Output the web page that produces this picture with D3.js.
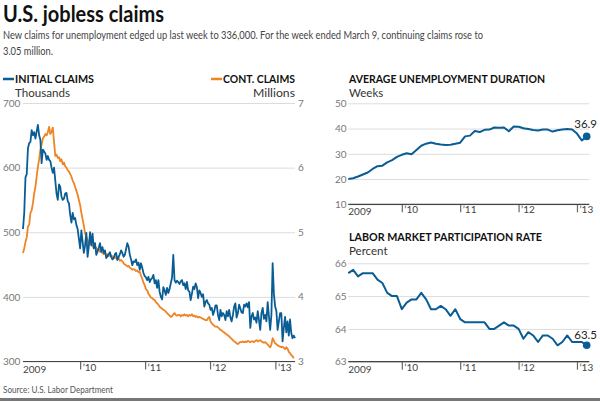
<!DOCTYPE html>
<html><head><meta charset="utf-8">
<script src="https://cdn.jsdelivr.net/npm/d3@7"></script>
<style>
body{margin:0;background:#fff}
svg{display:block}
text{font-family:Lato,"Open Sans",sans-serif}
</style>
</head><body>
<svg id="c" width="600" height="402"></svg>
<script>
// ---------------- DATA ----------------
// Weekly initial jobless claims (thousands), week ended Jan 3 2009 .. Mar 16 2013
const initialClaims = [
505,530,585,590,630,638,640,658,650,655,645,656,666,650,643,607,628,625,622,612,618,612,610,600,592,600,580,560,550,574,570,555,550,552,560,561,548,545,527,515,530,520,522,511,505,490,475,503,485,468,480,499,
462,478,500,480,498,475,483,465,470,476,483,470,477,468,472,460,463,466,469,462,458,460,466,468,457,462,466,472,468,462,465,474,483,478,465,458,449,455,454,458,449,453,442,452,445,437,432,430,426,431,423,427,
429,434,421,426,414,426,408,400,396,415,410,403,414,406,412,421,430,465,426,422,425,423,420,424,426,418,421,412,423,410,408,395,405,416,412,421,415,398,410,406,400,404,385,392,395,390,388,380,383,372,378,387,
387,372,364,380,370,375,372,364,378,370,380,368,362,372,385,390,368,375,388,382,376,375,388,385,390,384,392,352,370,375,365,368,360,378,364,349,375,383,366,372,362,392,370,349,372,452,405,385,378,349,362,375,
375,331,352,369,345,362,340,365,344,336,340,336
];
// Weekly continuing claims (millions), week ended Jan 3 2009 .. Mar 9 2013
const continuingClaims = [
4.68,4.75,4.85,4.92,5.09,5.12,5.30,5.34,5.45,5.60,5.70,5.86,6.01,6.13,6.28,6.36,6.45,6.48,6.52,6.50,6.55,6.63,6.52,6.55,6.62,6.40,6.18,6.20,6.15,6.16,6.10,6.13,6.05,6.08,6.02,6.00,5.96,5.94,5.90,5.86,5.80,5.76,5.70,5.64,5.58,5.50,5.42,5.30,5.20,5.10,4.98,4.93,
4.88,4.83,4.83,4.80,4.78,4.79,4.76,4.76,4.72,4.74,4.70,4.69,4.68,4.66,4.68,4.65,4.66,4.63,4.65,4.62,4.63,4.60,4.62,4.60,4.58,4.60,4.56,4.57,4.55,4.52,4.50,4.49,4.47,4.48,4.45,4.44,4.42,4.43,4.42,4.40,4.41,4.38,4.39,4.33,4.28,4.22,4.18,4.12,4.10,4.05,4.02,3.99,
3.98,3.96,3.95,3.92,3.90,3.88,3.85,3.83,3.82,3.80,3.79,3.77,3.75,3.73,3.71,3.69,3.70,3.73,3.75,3.72,3.71,3.72,3.72,3.70,3.72,3.71,3.73,3.71,3.72,3.70,3.72,3.71,3.73,3.70,3.71,3.69,3.70,3.68,3.69,3.68,3.67,3.66,3.65,3.64,3.64,3.67,3.69,3.62,3.59,3.57,3.55,3.54,
3.54,3.53,3.51,3.49,3.48,3.46,3.45,3.43,3.42,3.40,3.39,3.37,3.35,3.33,3.31,3.30,3.28,3.27,3.29,3.30,3.30,3.31,3.30,3.31,3.30,3.32,3.31,3.30,3.31,3.31,3.30,3.32,3.33,3.31,3.32,3.33,3.31,3.30,3.29,3.30,3.28,3.26,3.24,3.22,3.26,3.36,3.32,3.28,3.27,3.25,3.24,3.23,
3.22,3.23,3.21,3.19,3.22,3.20,3.15,3.13,3.10,3.08,3.05
];
// Monthly, Jan 2009 .. Feb 2013
const avgDuration = [
20.0,20.3,21.0,21.8,22.6,24.0,25.1,25.3,26.6,27.5,
28.8,29.6,30.2,29.8,31.5,33.2,34.0,34.5,34.0,33.7,
33.5,33.6,34.0,34.4,36.9,37.2,39.0,38.6,39.5,39.6,
40.4,40.3,40.4,38.9,40.8,40.7,40.1,39.8,39.4,39.2,
39.6,39.6,38.8,39.3,39.6,39.8,39.6,38.0,35.3,36.9
];
const participation = [
65.7,65.8,65.6,65.7,65.7,65.7,65.5,65.4,65.1,65.0,
65.0,64.6,64.8,64.9,64.9,65.1,64.9,64.6,64.6,64.7,
64.6,64.4,64.6,64.3,64.2,64.2,64.2,64.2,64.2,64.0,
64.0,64.1,64.2,64.1,64.1,64.0,63.7,63.9,63.8,63.6,
63.8,63.8,63.7,63.5,63.6,63.8,63.6,63.6,63.6,63.5
];
const leftTicks = [300,400,500,600,700];
const rightTicks = [3,4,5,6,7];
const weekTickPos = [46,98.3,150.6,203.2];
const monthTickPos = [11,23,35,47];
const yearLabels = ["’10","’11","’12","’13"];
const firstYearLabel = "2009";
const durationTicks = [10,20,30,40,50];
const partTicks = [63,64,65,66];
const durationLast = "36.9";
const partLast = "63.5";

// ---------------- DRAW ----------------
const BLUE = "#0a5d94", ORANGE = "#ef8424";
const svg = d3.select("#c");

function txt(x,y,s,size,opts={}){
  const t = svg.append("text").attr("x",x).attr("y",y).attr("font-size",size)
    .attr("fill",opts.fill||"#222").attr("font-weight",opts.weight||400).text(s);
  if(opts.anchor) t.attr("text-anchor",opts.anchor);
  if(opts.len) t.attr("textLength",opts.len).attr("lengthAdjust","spacingAndGlyphs");
  return t;
}

// Header
txt(3,22,"U.S. jobless claims",22,{weight:700,fill:"#111",len:161});
txt(3,39,"New claims for unemployment edged up last week to 336,000. For the week ended March 9, continuing claims rose to",11.5,{fill:"#444",len:480});
txt(3,55,"3.05 million.",11.5,{fill:"#444",len:50});

function yGrid(scale, ticks, x0, x1, labelX, fmt){
  const g = svg.append("g").attr("transform",`translate(${x0},0)`)
    .call(d3.axisLeft(scale).tickValues(ticks).tickSize(-(x1-x0)).tickFormat(fmt||d3.format("d")));
  g.select(".domain").remove();
  g.selectAll(".tick line").attr("stroke","#dcdcdc").attr("stroke-width",1);
  g.selectAll(".tick text").attr("x",labelX-x0).attr("text-anchor","start")
    .attr("fill","#777").attr("font-size",10).attr("font-family","Lato,sans-serif");
  return g;
}
function xAxis(scale, tickVals, y, x0, x1){
  const g = svg.append("g").attr("transform",`translate(0,${y})`)
    .call(d3.axisBottom(scale).tickValues(tickVals).tickFormat((d,i)=>yearLabels[i]).tickSize(8).tickSizeOuter(0));
  g.select(".domain").remove();
  g.selectAll(".tick line").attr("stroke","#666").attr("stroke-width",1.2);
  g.selectAll(".tick text").attr("x",2).attr("y",2).attr("text-anchor","start")
    .attr("fill","#444").attr("font-size",10).attr("font-family","Lato,sans-serif");
  svg.append("line").attr("x1",x0).attr("x2",x1).attr("y1",y).attr("y2",y)
    .attr("stroke","#444").attr("stroke-width",1.2);
  txt(x0,y+11,firstYearLabel,10,{fill:"#444"});
}

// ---- Main chart ----
const mx0 = 23, mx1 = 295, myTop = 103, myBot = 361.5;
const xW = d3.scaleLinear().domain([0, initialClaims.length-1]).range([mx0, mx1]);
const yL = d3.scaleLinear().domain([300,700]).range([myBot,myTop]);
const yR = d3.scaleLinear().domain([3,7]).range([myBot,myTop]);

yGrid(yL, leftTicks, mx0, mx1, 3);
svg.append("g").selectAll("text").data(rightTicks).join("text")
  .attr("x",298).attr("y",d=>yR(d)).attr("dy","0.35em").attr("font-size",10).attr("fill","#777").text(d=>d);
xAxis(xW, weekTickPos, myBot, mx0, mx1);

// legend
svg.append("line").attr("x1",3).attr("x2",14).attr("y1",79).attr("y2",79).attr("stroke",BLUE).attr("stroke-width",2.5);
txt(15,83,"INITIAL CLAIMS",11,{weight:700,fill:"#111",len:79});
txt(15,97,"Thousands",11.5,{fill:"#333",len:55});
svg.append("line").attr("x1",211).attr("x2",222).attr("y1",79).attr("y2",79).attr("stroke",ORANGE).attr("stroke-width",2.5);
txt(295,83,"CONT. CLAIMS",11,{weight:700,fill:"#111",len:72,anchor:"end"});
txt(295,97,"Millions",11.5,{fill:"#333",len:42,anchor:"end"});

svg.append("path").datum(continuingClaims)
  .attr("d",d3.line().x((d,i)=>xW(i)).y(d=>yR(d)))
  .attr("fill","none").attr("stroke",ORANGE).attr("stroke-width",1.8).attr("stroke-linejoin","round");
svg.append("path").datum(initialClaims)
  .attr("d",d3.line().x((d,i)=>xW(i)).y(d=>yL(d)))
  .attr("fill","none").attr("stroke",BLUE).attr("stroke-width",1.8).attr("stroke-linejoin","round");

// ---- Right charts ----
const rx0 = 348.3, rxEnd = 589.3;
const xM = d3.scaleLinear().domain([0, avgDuration.length-1]).range([rx0, 586.7]);

// Duration
txt(349,83,"AVERAGE UNEMPLOYMENT DURATION",11,{weight:700,fill:"#111",len:196});
txt(349,97,"Weeks",11.5,{fill:"#333"});
const yD = d3.scaleLinear().domain([10,50]).range([204.3,103.3]);
yGrid(yD, durationTicks, rx0, rxEnd, 335);
xAxis(xM, monthTickPos, 204.3, rx0, rxEnd);
svg.append("path").datum(avgDuration)
  .attr("d",d3.line().x((d,i)=>xM(i)).y(d=>yD(d)))
  .attr("fill","none").attr("stroke",BLUE).attr("stroke-width",2).attr("stroke-linejoin","round");
svg.append("circle").attr("cx",xM(avgDuration.length-1)).attr("cy",yD(avgDuration[avgDuration.length-1])).attr("r",3.8).attr("fill",BLUE);
txt(597,127.5,durationLast,11.5,{fill:"#222",anchor:"end"});

// Participation
txt(349,241,"LABOR MARKET PARTICIPATION RATE",11,{weight:700,fill:"#111",len:193});
txt(349,255,"Percent",11.5,{fill:"#333"});
const yP = d3.scaleLinear().domain([63,66]).range([361.7,263.3]);
yGrid(yP, partTicks, rx0, rxEnd, 335);
xAxis(xM, monthTickPos, 361.7, rx0, rxEnd);
svg.append("path").datum(participation)
  .attr("d",d3.line().x((d,i)=>xM(i)).y(d=>yP(d)))
  .attr("fill","none").attr("stroke",BLUE).attr("stroke-width",2).attr("stroke-linejoin","round");
svg.append("circle").attr("cx",xM(participation.length-1)).attr("cy",yP(participation[participation.length-1])).attr("r",3.8).attr("fill",BLUE);
txt(597,338.5,partLast,11.5,{fill:"#222",anchor:"end"});

// Footer
txt(3,393,"Source: U.S. Labor Department",9,{fill:"#555",len:110});
svg.append("rect").attr("x",0).attr("y",398).attr("width",600).attr("height",3).attr("fill","#777");
</script>
</body></html>
